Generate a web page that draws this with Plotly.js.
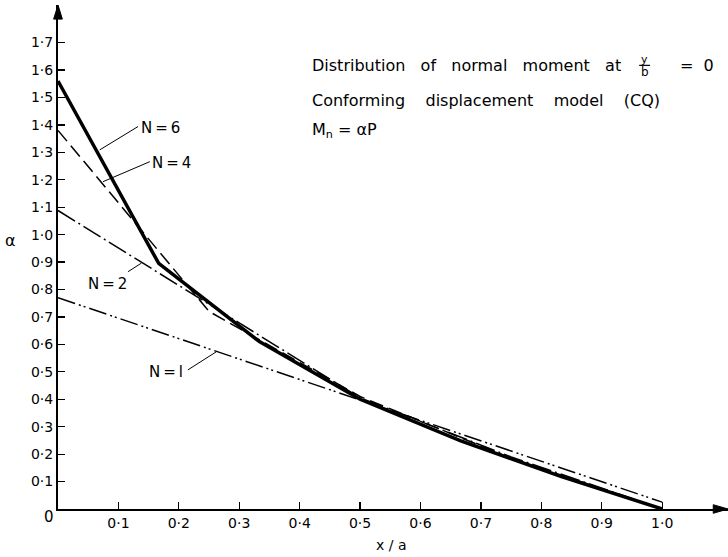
<!DOCTYPE html>
<html>
<head>
<meta charset="utf-8">
<script src="https://cdn.plot.ly/plotly-3.0.1.min.js"></script>
<style>html,body{margin:0;padding:0;background:#fff;}#chart{width:728px;height:557px;}</style>
</head>
<body>
<div id="chart"></div>
<script>
// ---- data ----
const xN6 = [0, 0.1667, 0.3333, 0.5, 0.6667, 0.8333, 1.0];
const aN6 = [1.56, 0.895, 0.61, 0.40, 0.248, 0.118, 0.0];
const xN4 = [0, 0.25, 0.5, 0.75, 1.0];
const aN4 = [1.38, 0.72, 0.41, 0.185, 0.0];
const xN2 = [0, 0.5, 0.75, 1.0];
const aN2 = [1.088, 0.405, 0.19, 0.0];
const xN1 = [0, 1.0];
const aN1 = [0.77, 0.025];

const xTickVals = [0.1, 0.2, 0.3, 0.4, 0.5, 0.6, 0.7, 0.8, 0.9, 1.0];
const xTickText = ["0·1","0·2","0·3","0·4","0·5","0·6","0·7","0·8","0·9","1·0"];
const yTickVals = [0.1,0.2,0.3,0.4,0.5,0.6,0.7,0.8,0.9,1.0,1.1,1.2,1.3,1.4,1.5,1.6,1.7];
const yTickText = ["0·1","0·2","0·3","0·4","0·5","0·6","0·7","0·8","0·9","1·0","1·1","1·2","1·3","1·4","1·5","1·6","1·7"];

const FONT = "DejaVu Sans, sans-serif";
const sp = "\u00A0\u00A0\u00A0";
const sp4 = "\u00A0\u00A0\u00A0\u00A0";

function line(x, y, width, dash) {
  return {x: x, y: y, mode: "lines", type: "scatter", hoverinfo: "skip",
          line: {color: "#000", width: width, dash: dash}};
}

const traces = [
  line(xN1, aN1, 1.5, "18px,4px,2px,3px,2px,4px"),
  line(xN2, aN2, 1.5, "20px,4px,2px,4px"),
  line(xN4, aN4, 1.5, "14px,6px"),
  line(xN6, aN6, 3.5, "solid")
];

const XMAX = 1.109, YMAX = 1.837;

function txt(x, y, text, size, xanchor, xref, yref) {
  return {x: x, y: y, text: text, showarrow: false, xref: xref || "x", yref: yref || "y",
          xanchor: xanchor || "center", yanchor: "middle",
          font: {family: FONT, size: size, color: "#000"}};
}

const annotations = [
  txt(0.4167, 1.615, "Distribution" + sp + "of" + sp + "normal" + sp + "moment" + sp + "at", 16, "left"),
  txt(0.971, 1.640, "y", 11, "center"),
  txt(0.971, 1.592, "b", 12, "center"),
  txt(1.026, 1.615, "=" + "\u00A0\u00A0" + "0", 16, "left"),
  txt(0.4167, 1.488, "Conforming" + sp4 + "displacement" + sp4 + "model" + sp4 + "(CQ)", 16, "left"),
  txt(0.4167, 1.379, "M<sub>n</sub>\u00A0=\u00A0αP", 16, "left"),
  txt(0.170, 1.387, "N\u2009=\u20096", 15),
  txt(0.188, 1.260, "N\u2009=\u20094", 15),
  txt(0.0823, 0.820, "N\u2009=\u20092", 15),
  txt(0.1795, 0.501, "N\u2009=\u2009l", 15),
  // texts outside the plot area, in paper coordinates
  txt(-0.0134, -0.0159, "0", 15, "center", "paper", "paper"),
  txt(-0.0716, 0.5337, "α", 16, "center", "paper", "paper"),
  txt(0.497, -0.0714, "x\u00A0/\u00A0a", 14, "center", "paper", "paper")
];

function seg(x0, y0, x1, y1, w) {
  return {type: "line", xref: "x", yref: "y", x0: x0, y0: y0, x1: x1, y1: y1,
          line: {color: "#000", width: w || 1}};
}

const shapes = [
  // leader lines for labels
  seg(0.1325, 1.394, 0.0691, 1.309),
  seg(0.152, 1.266, 0.0745, 1.193),
  seg(0.116, 0.865, 0.138, 0.896),
  seg(0.215, 0.507, 0.262, 0.573),
  // fraction bar y/b
  seg(0.962, 1.617, 0.980, 1.617, 1.2),
  // axis arrowheads (paper coordinates)
  {type: "path", xref: "paper", yref: "paper", path: "M 0,1.0 L -0.0065,0.972 L 0.0065,0.972 Z",
   fillcolor: "#000", line: {color: "#000", width: 1}},
  {type: "path", xref: "paper", yref: "paper", path: "M 1.0,0 L 0.978,0.0085 L 0.978,-0.0085 Z",
   fillcolor: "#000", line: {color: "#000", width: 1}}
];

const layout = {
  width: 728, height: 557,
  margin: {l: 58, r: 0, t: 5, b: 48, pad: 0},
  paper_bgcolor: "#fff", plot_bgcolor: "#fff",
  showlegend: false,
  font: {family: FONT, size: 14, color: "#000"},
  xaxis: {range: [0, XMAX], showgrid: false, zeroline: false, showline: true,
          linecolor: "#000", linewidth: 2, ticks: "inside", ticklen: 7, tickwidth: 1.2,
          tickcolor: "#000", tickmode: "array", tickvals: xTickVals, ticktext: xTickText,
          tickfont: {family: FONT, size: 14, color: "#000"}, fixedrange: true},
  yaxis: {range: [0, YMAX], showgrid: false, zeroline: false, showline: true,
          linecolor: "#000", linewidth: 2, ticks: "inside", ticklen: 7, tickwidth: 1.2,
          tickcolor: "#000", tickmode: "array", tickvals: yTickVals, ticktext: yTickText,
          tickfont: {family: FONT, size: 14, color: "#000"}, ticklabelstandoff: 0, fixedrange: true},
  annotations: annotations,
  shapes: shapes
};

Plotly.newPlot("chart", traces, layout, {staticPlot: true, displayModeBar: false});
</script>
</body>
</html>
